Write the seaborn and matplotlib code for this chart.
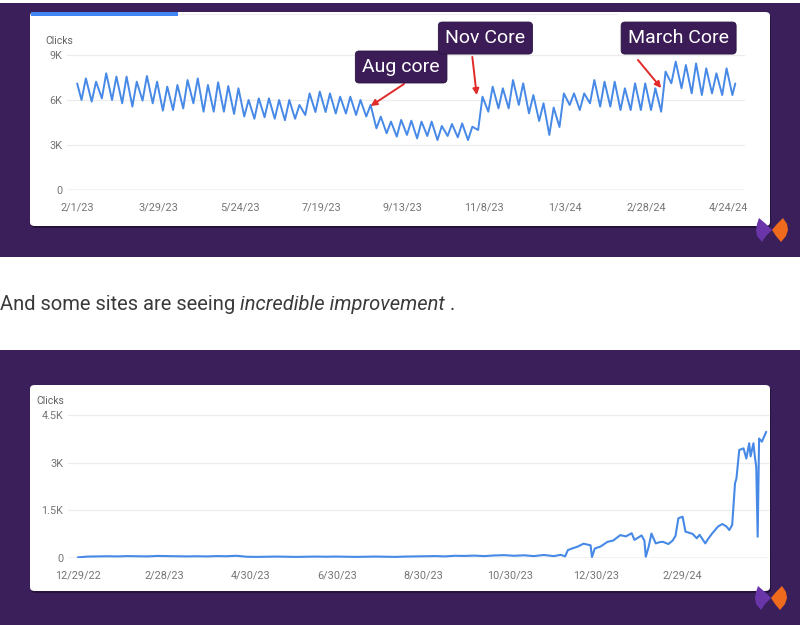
import pandas as pd
import matplotlib
matplotlib.use('Agg')
import matplotlib.pyplot as plt
import matplotlib.dates as mdates
from matplotlib.patches import Rectangle, FancyBboxPatch, Polygon
import seaborn as sns

# ---------------------------------------------------------------
# Top chart: daily clicks read off the screenshot as weekday highs
# and weekend lows (thousands of clicks)
# ---------------------------------------------------------------
top_first = ('2023-02-01', 7.1)
top_last = ('2024-04-29', 7.1)
weekend_lows = [6.0, 5.89, 6.11, 6.0, 5.78, 5.56, 5.96, 5.78, 5.29, 5.33, 5.44, 5.78, 5.22, 5.22, 5.22, 5.07,
                4.9, 4.75, 4.85, 4.75, 4.65, 4.75, 5.0, 5.2, 5.2, 5.1, 5.1, 5.0, 4.9, 4.11, 3.78, 3.56,
                3.67, 3.44, 3.60, 3.33, 3.60, 3.51, 3.33, 4.0, 5.22, 5.44, 5.44, 5.67, 5.11, 4.6, 3.67, 4.2,
                5.67, 5.33, 5.78, 5.56, 5.56, 5.33, 5.33, 5.33, 5.33, 5.22, 7.11, 6.78, 6.44, 6.33, 6.44, 6.33, 6.33]
weekday_peaks = [7.44, 7.22, 7.78, 7.56, 7.56, 7.22, 7.60, 7.22, 6.89, 7.0, 7.33, 7.44, 7.0, 7.18, 6.93, 6.78,
                 6.0, 6.11, 6.11, 6.0, 6.0, 5.67, 6.44, 6.56, 6.44, 6.22, 6.22, 6.0, 5.67, 4.89, 4.56, 4.67,
                 4.62, 4.56, 4.56, 4.27, 4.40, 4.44, 4.22, 6.22, 6.89, 6.78, 7.33, 7.11, 6.33, 5.78, 5.5, 6.44,
                 6.44, 6.44, 7.33, 7.22, 7.22, 6.78, 7.11, 7.11, 6.78, 7.89, 8.56, 8.33, 8.44, 8.11, 7.78, 8.11]
top_xticks = ['2023-02-01', '2023-03-29', '2023-05-24', '2023-07-19', '2023-09-13',
              '2023-11-08', '2024-01-03', '2024-02-28', '2024-04-24']
top_xlabels = ['2/1/23', '3/29/23', '5/24/23', '7/19/23', '9/13/23',
               '11/8/23', '1/3/24', '2/28/24', '4/24/24']
top_yticks = [0, 3000, 6000, 9000]
top_ylabels = ['0', '3K', '6K', '9K']

# core update callouts: label, box position, arrow tail, arrow tip
callout_labels = ['Aug core', 'Nov Core', 'March Core']
callout_box = [('2023-09-12', 8200), ('2023-11-09', 10130), ('2024-03-21', 10130)]
callout_tail = [('2023-09-14', 7070), ('2023-10-31', 8870), ('2024-02-22', 8670)]
callout_tip = [('2023-08-22', 5600), ('2023-11-03', 6330), ('2024-03-09', 6800)]

# ---------------------------------------------------------------
# Bottom chart: near-flat weekly clicks, then the growth period
# ---------------------------------------------------------------
flat_start = '2022-12-29'
flat_clicks = [20, 45, 50, 55, 50, 60, 55, 50, 65, 60, 55, 50, 55, 50, 60, 55, 70,
               40, 35, 40, 45, 40, 35, 40, 45, 40, 45, 40, 35, 40, 45, 40, 35, 45, 50,
               55, 60, 50, 70, 65, 75, 60, 80, 90, 70, 85, 60, 95]
growth_dates = ['2023-11-30', '2023-12-05', '2023-12-08', '2023-12-10', '2023-12-13', '2023-12-17',
                '2023-12-21', '2023-12-24', '2023-12-26', '2023-12-27', '2023-12-29', '2024-01-02',
                '2024-01-07', '2024-01-11', '2024-01-16', '2024-01-20', '2024-01-24', '2024-01-26',
                '2024-01-31', '2024-02-02', '2024-02-03', '2024-02-05', '2024-02-07', '2024-02-10',
                '2024-02-13', '2024-02-15', '2024-02-19', '2024-02-22', '2024-02-24', '2024-02-26',
                '2024-02-29', '2024-03-02', '2024-03-07', '2024-03-10', '2024-03-12', '2024-03-16',
                '2024-03-18', '2024-03-21', '2024-03-25', '2024-03-28', '2024-03-31', '2024-04-02',
                '2024-04-04', '2024-04-06', '2024-04-07', '2024-04-09', '2024-04-12', '2024-04-14',
                '2024-04-16', '2024-04-17', '2024-04-19', '2024-04-20', '2024-04-21', '2024-04-22',
                '2024-04-23', '2024-04-25', '2024-04-28']
growth_clicks = [60, 100, 50, 250, 300, 360, 450, 420, 400, 30,
                 300, 360, 510, 550, 720, 680, 780, 570, 710, 550,
                 40, 350, 770, 460, 500, 510, 440, 550, 700, 1250,
                 1300, 830, 760, 620, 730, 460, 600, 780, 990, 1070,
                 990, 880, 1040, 2350, 2500, 3400, 3450, 3130, 3610, 3200,
                 3610, 3190, 2870, 670, 3760, 3660, 3970]
bot_xticks = ['2022-12-29', '2023-02-28', '2023-04-30', '2023-06-30',
              '2023-08-30', '2023-10-30', '2023-12-30', '2024-02-29']
bot_xlabels = ['12/29/22', '2/28/23', '4/30/23', '6/30/23',
               '8/30/23', '10/30/23', '12/30/23', '2/29/24']
bot_yticks = [0, 1500, 3000, 4500]
bot_ylabels = ['0', '1.5K', '3K', '4.5K']

sentence = ['And some sites are seeing ', 'incredible improvement', ' .']

# ---------------------------------------------------------------
# build tables
# ---------------------------------------------------------------
lows = pd.DataFrame({'date': pd.date_range('2023-02-04', periods=len(weekend_lows), freq='7D'),
                     'clicks': [v * 1000 for v in weekend_lows]})
peaks = pd.DataFrame({'date': pd.date_range('2023-02-07', periods=len(weekday_peaks), freq='7D'),
                      'clicks': [v * 1000 for v in weekday_peaks]})
ends = pd.DataFrame({'date': pd.to_datetime([top_first[0], top_last[0]]),
                     'clicks': [top_first[1] * 1000, top_last[1] * 1000]})
top_df = pd.concat([ends, lows, peaks]).sort_values('date').reset_index(drop=True)

flat = pd.DataFrame({'date': pd.date_range(flat_start, periods=len(flat_clicks), freq='7D'),
                     'clicks': flat_clicks})
growth = pd.DataFrame({'date': pd.to_datetime(growth_dates), 'clicks': growth_clicks})
bot_df = pd.concat([flat, growth]).sort_values('date').reset_index(drop=True)

# ---------------------------------------------------------------
# page layout (pixel helpers for an 800x625 canvas)
# ---------------------------------------------------------------
sns.set_theme(style='white')
plt.rcParams['font.family'] = ['Roboto', 'DejaVu Sans']

W, H = 800, 625
PURPLE = '#3a1f5b'
BOX = '#3b1c56'
LINE = '#4789e6'
GREY = '#757575'

fig = plt.figure(figsize=(8, 6.25), dpi=100)
fig.patch.set_facecolor('white')


def rect(x0, y0, x1, y1):
    return (x0 / W, 1 - y1 / H, (x1 - x0) / W, (y1 - y0) / H)


def add_rect(x0, y0, x1, y1, color, z=0, rounded=False):
    l, b, w, h = rect(x0, y0, x1, y1)
    if rounded:
        p = FancyBboxPatch((l, b), w, h, boxstyle='round,pad=0,rounding_size=0.006',
                           transform=fig.transFigure, fc=color, ec='none', zorder=z)
    else:
        p = Rectangle((l, b), w, h, transform=fig.transFigure, fc=color, ec='none', zorder=z)
    fig.add_artist(p)


def add_logo(cx, cy):
    purple = [(-13, -12), (-6, -6), (0, 0), (-6, 6), (-10, 12), (-15, 6), (-16, 0), (-15, -6)]
    orange = [(0, 0), (5, -6), (11, -12), (15, -6), (16, 0), (14, 6), (9, 12), (4, 6)]
    for pts, col in [(purple, '#6a35a8'), (orange, '#f06a1d')]:
        xy = [((cx + dx) / W, 1 - (cy + dy) / H) for dx, dy in pts]
        fig.add_artist(Polygon(xy, closed=True, transform=fig.transFigure, fc=col, ec='none', zorder=3))


# purple panels and white cards
add_rect(0, 3, 800, 257, PURPLE)
add_rect(0, 350, 800, 625, PURPLE)
add_rect(31, 14, 771, 228, '#25123d', z=1, rounded=True)
add_rect(30, 12, 770, 226, 'white', z=1, rounded=True)
add_rect(31, 387, 771, 593, '#25123d', z=1, rounded=True)
add_rect(30, 385, 770, 591, 'white', z=1, rounded=True)
add_rect(178, 14, 618, 15, '#eeeeee', z=2)
add_rect(31, 12, 178, 15.5, '#4285f4', z=2)
add_logo(772, 230)
add_logo(771, 598)


def style_axis(ax, xticks, xlabels, yticks, ylabels, xlim, ylim):
    ax.set_facecolor('none')
    ax.set_xlim(pd.Timestamp(xlim[0]), pd.Timestamp(xlim[1]))
    ax.set_ylim(*ylim)
    ax.set_xticks(pd.to_datetime(xticks))
    ax.set_xticklabels(xlabels)
    ax.set_yticks(yticks)
    ax.set_yticklabels(ylabels)
    ax.tick_params(axis='x', length=0, pad=9, labelsize=7.8, labelcolor=GREY)
    ax.tick_params(axis='y', length=0, pad=3.5, labelsize=7.8, labelcolor=GREY)
    for s in ax.spines.values():
        s.set_visible(False)
    for y in yticks[1:]:
        ax.axhline(y, color='#ececec', lw=0.9, zorder=0, clip_on=False)
    ax.axhline(0, color='#bdbdbd', lw=1.0, zorder=0)
    ax.set_xlabel('')
    ax.set_ylabel('')


# ---------------------------------------------------------------
# top chart
# ---------------------------------------------------------------
ax1 = fig.add_axes(rect(67, 55, 744, 190))
ax1.set_zorder(4)
sns.lineplot(data=top_df, x='date', y='clicks', ax=ax1, color=LINE, linewidth=1.4)
style_axis(ax1, top_xticks, top_xlabels, top_yticks, top_ylabels,
           ('2023-01-25', '2024-05-05'), (0, 9000))
fig.text(45 / W, 1 - 41 / H, 'Clicks', fontsize=7.5, color='#616161', va='center', ha='left', zorder=5)

for label, box, tail, tip in zip(callout_labels, callout_box, callout_tail, callout_tip):
    ax1.annotate('', xy=(mdates.date2num(pd.Timestamp(tip[0])), tip[1]),
                 xytext=(mdates.date2num(pd.Timestamp(tail[0])), tail[1]),
                 arrowprops=dict(arrowstyle='-|>', color='#e12a2a', lw=1.4, mutation_scale=9,
                                 shrinkA=0, shrinkB=0),
                 annotation_clip=False, zorder=6)
    ax1.text(mdates.date2num(pd.Timestamp(box[0])), box[1], label, fontsize=14, color='white',
             ha='center', va='center', clip_on=False, zorder=7,
             bbox=dict(boxstyle='round,pad=0.36,rounding_size=0.2', fc=BOX, ec='#2a1440', lw=0.6))

# ---------------------------------------------------------------
# text between the panels
# ---------------------------------------------------------------
fig.canvas.draw()
renderer = fig.canvas.get_renderer()
x_px = 0.0
for i, part in enumerate(sentence):
    t = fig.text(x_px / W, 1 - 305 / H, part, fontsize=14.5, color='#3a3a3a', va='center', ha='left',
                 style='italic' if i == 1 else 'normal')
    x_px += t.get_window_extent(renderer=renderer).width

# ---------------------------------------------------------------
# bottom chart
# ---------------------------------------------------------------
ax2 = fig.add_axes(rect(68, 415, 769, 558))
ax2.set_zorder(4)
sns.lineplot(data=bot_df, x='date', y='clicks', ax=ax2, color=LINE, linewidth=1.5)
style_axis(ax2, bot_xticks, bot_xlabels, bot_yticks, bot_ylabels,
           ('2022-12-22', '2024-04-30'), (0, 4500))
fig.text(36 / W, 1 - 401 / H, 'Clicks', fontsize=7.5, color='#616161', va='center', ha='left', zorder=5)

fig.savefig('out.png', dpi=100, facecolor=fig.get_facecolor())
